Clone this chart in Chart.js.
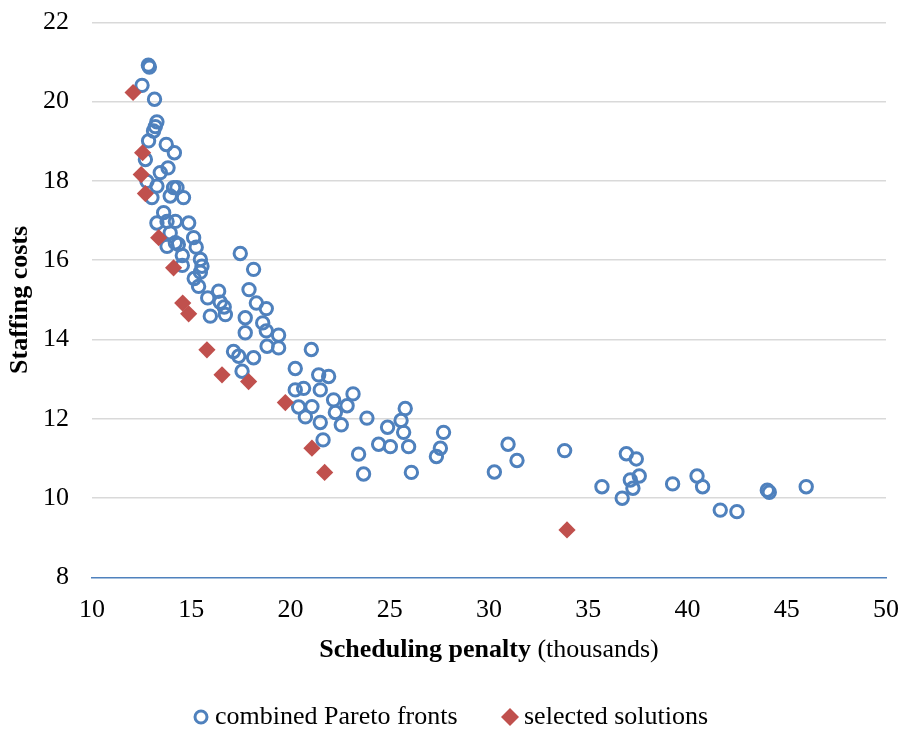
<!DOCTYPE html>
<html>
<head>
<meta charset="utf-8">
<script src="https://cdn.jsdelivr.net/npm/chart.js@4"></script>
<style>
  body { margin: 0; background: #fff; }
</style>
</head>
<body>
<canvas id="chart" width="902" height="729"></canvas>
<script>
// combined Pareto fronts (scheduling penalty in thousands, staffing costs)
const paretoX = [12.84, 12.89, 12.52, 13.15, 13.27, 13.19, 13.10, 12.85, 13.74, 14.15,
  12.69, 13.83, 13.44, 12.77, 13.27, 14.11, 14.28, 13.94, 14.61, 13.02,
  13.61, 13.27, 13.78, 14.20, 14.87, 13.94, 15.12, 14.20, 13.78, 14.35,
  15.25, 14.55, 14.55, 15.46, 15.54, 15.46, 15.15, 15.37, 17.47, 18.14,
  17.91, 16.38, 15.83, 16.46, 16.66, 18.28, 18.78, 15.96, 16.72, 17.72,
  18.60, 17.72, 18.78, 19.40, 18.82, 19.40, 21.05, 17.13, 17.39, 18.14,
  17.56, 20.24, 20.24, 20.66, 21.42, 21.92, 21.50, 23.15, 20.41, 21.08,
  22.17, 22.85, 20.75, 21.50, 22.26, 22.56, 23.85, 25.78, 25.57, 25.70,
  24.89, 24.44, 25.03, 25.95, 27.71, 27.55, 27.35, 21.64, 23.43, 23.68,
  26.09, 30.96, 31.41, 30.27, 33.81, 35.69, 36.92, 37.42, 37.57, 37.12,
  37.25, 36.71, 39.25, 40.48, 40.76, 41.65, 42.49, 44.02, 44.12, 45.98];
const paretoY = [20.92, 20.87, 20.41, 20.06, 19.49, 19.37, 19.26, 19.01, 18.92, 18.71,
  18.54, 18.33, 18.21, 17.99, 17.87, 17.83, 17.83, 17.62, 17.58, 17.58,
  17.20, 16.94, 16.98, 16.98, 16.94, 16.69, 16.57, 16.44, 16.35, 16.40,
  16.33, 16.12, 15.87, 16.02, 15.85, 15.70, 15.54, 15.34, 16.17, 15.77,
  15.26, 15.22, 15.05, 14.94, 14.82, 14.92, 14.78, 14.59, 14.63, 14.55,
  14.42, 14.17, 14.22, 14.11, 13.83, 13.79, 13.75, 13.70, 13.58, 13.54,
  13.20, 13.27, 12.73, 12.77, 13.11, 13.07, 12.73, 12.63, 12.30, 12.31,
  12.48, 12.33, 12.05, 11.91, 12.16, 11.85, 12.02, 12.26, 11.96, 11.66,
  11.79, 11.36, 11.30, 11.30, 11.66, 11.26, 11.05, 11.47, 11.11, 10.61,
  10.65, 11.36, 10.95, 10.66, 11.20, 10.29, 11.12, 10.99, 10.56, 10.46,
  10.25, 10.00, 10.36, 10.56, 10.29, 9.70, 9.66, 10.20, 10.15, 10.29];

// selected solutions
const selectedX = [12.07, 12.55, 12.48, 12.69, 13.36, 14.11, 14.57, 14.87, 15.79, 16.55,
  17.89, 19.74, 21.08, 21.72, 33.93];
const selectedY = [20.23, 18.71, 18.16, 17.68, 16.57, 15.81, 14.92, 14.65, 13.74, 13.11,
  12.94, 12.41, 11.26, 10.65, 9.20];

const seriesNames = ["combined Pareto fronts", "selected solutions"];
const xTitle = ["Scheduling penalty", " (thousands)"];
const yTitle = "Staffing costs";
const xRange = [10, 50, 5];
const yRange = [8, 22, 2];

const blue = "#4F81BD";
const red = "#C0504D";
const serif = "'Liberation Serif', 'Times New Roman', serif";

const toPoints = (xs, ys) => xs.map((x, i) => ({x: x, y: ys[i]}));

Chart.defaults.font.family = serif;
Chart.defaults.font.size = 26;
Chart.defaults.color = "#000";

// x title (bold + plain part) and a one-row legend, drawn under the axis
const legendX = [201, 510];
const bottomText = {
  id: "bottomText",
  afterDraw(chart) {
    const ctx = chart.ctx;
    const area = chart.chartArea;
    ctx.save();
    ctx.textBaseline = "alphabetic";
    ctx.textAlign = "left";
    ctx.fillStyle = "#000";
    ctx.font = "bold 26px " + serif;
    const w1 = ctx.measureText(xTitle[0]).width;
    ctx.font = "26px " + serif;
    const w2 = ctx.measureText(xTitle[1]).width;
    let tx = (area.left + area.right) / 2 - (w1 + w2) / 2;
    ctx.font = "bold 26px " + serif;
    ctx.fillText(xTitle[0], tx, 657);
    ctx.font = "26px " + serif;
    ctx.fillText(xTitle[1], tx + w1, 657);

    const y = 717;
    ctx.textBaseline = "middle";
    chart.data.datasets.forEach((ds, i) => {
      const cx = legendX[i];
      if (ds.pointStyle === "circle") {
        ctx.beginPath();
        ctx.arc(cx, y, 6, 0, Math.PI * 2);
        ctx.lineWidth = 3;
        ctx.strokeStyle = ds.pointBorderColor;
        ctx.stroke();
      } else {
        ctx.beginPath();
        ctx.moveTo(cx - 9, y);
        ctx.lineTo(cx, y - 9);
        ctx.lineTo(cx + 9, y);
        ctx.lineTo(cx, y + 9);
        ctx.closePath();
        ctx.fillStyle = ds.pointBackgroundColor;
        ctx.fill();
      }
      ctx.fillStyle = "#000";
      ctx.fillText(ds.label, cx + 14, y);
    });
    ctx.restore();
  }
};

new Chart(document.getElementById("chart"), {
  type: "scatter",
  data: {
    datasets: [
      {
        label: seriesNames[0],
        data: toPoints(paretoX, paretoY),
        pointStyle: "circle",
        pointRadius: 6.2,
        pointBorderWidth: 3,
        pointBorderColor: blue,
        pointBackgroundColor: "rgba(0,0,0,0)",
        order: 1
      },
      {
        label: seriesNames[1],
        data: toPoints(selectedX, selectedY),
        pointStyle: "rectRot",
        pointRadius: 8.6,
        pointBorderWidth: 0,
        pointBorderColor: red,
        pointBackgroundColor: red,
        order: 0
      }
    ]
  },
  options: {
    responsive: false,
    animation: false,
    layout: { padding: { top: 22.3, right: 16, bottom: 101.5, left: 0 } },
    plugins: {
      legend: { display: false },
      tooltip: { enabled: false }
    },
    scales: {
      x: {
        type: "linear",
        min: xRange[0],
        max: xRange[1],
        ticks: { stepSize: xRange[2], padding: 17 },
        grid: { display: false, drawTicks: false },
        border: { display: true, color: blue, width: 1.5 },
        afterFit: s => { s.height = 50; s.paddingLeft = 0; s.paddingRight = 0; }
      },
      y: {
        min: yRange[0],
        max: yRange[1],
        ticks: { stepSize: yRange[2], padding: 23 },
        grid: {
          drawTicks: false,
          lineWidth: 1.5,
          color: c => c.tick.value === yRange[0] ? "rgba(0,0,0,0)" : "#D9D9D9"
        },
        border: { display: false },
        title: {
          display: true,
          text: yTitle,
          font: { weight: "bold" },
          padding: { top: 5, bottom: 0 }
        },
        afterFit: s => { s.width = 92; s.paddingTop = 0; s.paddingBottom = 0; }
      }
    }
  },
  plugins: [bottomText]
});
</script>
</body>
</html>
